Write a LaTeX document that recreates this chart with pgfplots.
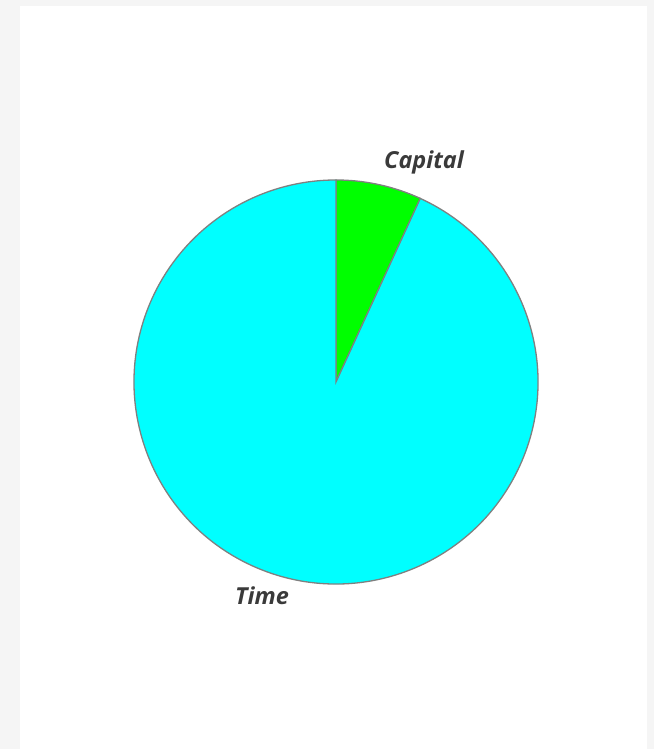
\documentclass[border=0pt]{standalone}
\usepackage{fontspec}
\setmainfont{Open Sans}
\usepackage{pgfplots}
\usepackage{pgfplotstable}
\pgfplotsset{compat=1.18}
\definecolor{bgpage}{HTML}{F5F5F5}
\definecolor{slicegreen}{HTML}{00FF00}
\definecolor{slicecyan}{HTML}{00FFFF}
\definecolor{edgegray}{HTML}{808080}
\definecolor{labelgray}{HTML}{3A3A3A}
\pgfplotstableread{
label value
Capital 6.85
Time 93.15
}\piedata
\begin{document}
\begin{tikzpicture}[x=1bp,y=1bp]
\fill[bgpage] (0,0) rectangle (654,749);
\fill[white] (20,0) rectangle (647,743);
\pgfplotstablegetelem{0}{value}\of\piedata \let\vA\pgfplotsretval
\pgfplotstablegetelem{1}{value}\of\piedata \let\vB\pgfplotsretval
\pgfmathsetmacro{\aA}{90-3.6*\vA}
\pgfmathsetmacro{\aB}{\aA-3.6*\vB}
\begin{axis}[
  at={(0,0)}, anchor=origin,
  width=654bp, height=749bp, scale only axis,
  xmin=0, xmax=654, ymin=0, ymax=749,
  hide axis, clip=false,
]
\fill[slicegreen, draw=edgegray, line width=1.3bp] (axis cs:336,367) -- ++(90:202bp) arc[start angle=90, end angle=\aA, radius=202bp] -- cycle;
\fill[slicecyan, draw=edgegray, line width=1.3bp] (axis cs:336,367) -- ++(\aA:202bp) arc[start angle=\aA, end angle=\aB, radius=202bp] -- cycle;
\node[font=\fontsize{23.5}{26}\selectfont\bfseries\itshape, text=labelgray] at (axis cs:424,587) {Capital};
\node[font=\fontsize{23.5}{26}\selectfont\bfseries\itshape, text=labelgray] at (axis cs:262,153) {Time};
\end{axis}
\end{tikzpicture}
\end{document}
